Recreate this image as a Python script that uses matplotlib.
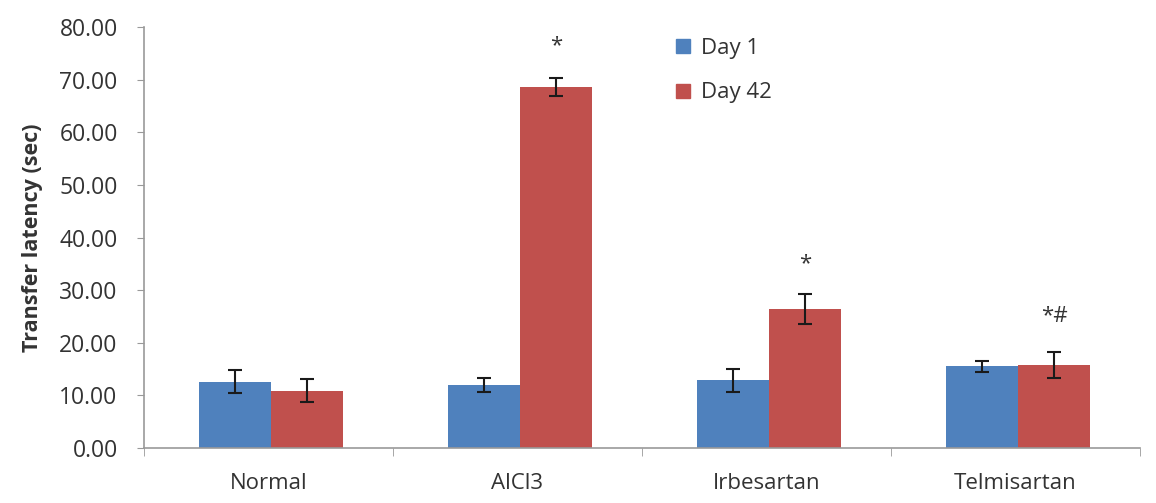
import numpy as np
import matplotlib.pyplot as plt
from matplotlib.lines import Line2D

# data
groups = ['Normal', 'AlCl3', 'Irbesartan', 'Telmisartan']
day1 = [12.6, 12.0, 12.9, 15.5]
day1_err = [2.2, 1.3, 2.2, 1.1]
day42 = [10.9, 68.6, 26.4, 15.8]
day42_err = [2.2, 1.7, 2.8, 2.4]
marks = ['', '*', '*', '*#']
mark_y = [None, 76.5, 35.0, 25.0]

blue = '#4F81BD'
red = '#C0504D'

plt.rcParams['font.family'] = ['Open Sans', 'DejaVu Sans']

fig = plt.figure(figsize=(11.56, 5.03), dpi=100)
ax = fig.add_axes([0.1246, 0.1093, 0.8614, 0.8370])

x = np.arange(len(groups))
w = 0.29
ax.bar(x - w/2 + 0.01, day1, w, color=blue, label='Day 1')
ax.bar(x + w/2 + 0.01, day42, w, color=red, label='Day 42')
ax.errorbar(x - w/2 + 0.01, day1, yerr=day1_err, fmt='none', ecolor='#1a1a1a',
            elinewidth=1.5, capsize=5, capthick=1.5)
ax.errorbar(x + w/2 + 0.01, day42, yerr=day42_err, fmt='none', ecolor='#1a1a1a',
            elinewidth=1.5, capsize=5, capthick=1.5)

for i in range(len(groups)):
    if marks[i]:
        ax.text(x[i] + w/2 + 0.01, mark_y[i], marks[i], ha='center', va='center',
                fontsize=16, color='#333333')

ax.set_xlim(-0.5, len(groups) - 0.5)
ax.set_ylim(0, 80)
ax.set_yticks(np.arange(0, 81, 10))
ax.set_yticklabels([f'{v:.2f}' for v in np.arange(0, 81, 10)], fontsize=16.5, color='#333333')
ax.set_xticks(x)
ax.set_xticklabels(groups, fontsize=16, color='#333333')
ax.tick_params(axis='x', length=0, pad=18)
ax.tick_params(axis='y', length=5, color='#999999', pad=14)
# minor ticks between groups on x axis
ax.set_xticks(np.arange(-0.5, len(groups), 1.0), minor=True)
ax.tick_params(axis='x', which='minor', length=6, color='#999999')

for s in ['top', 'right']:
    ax.spines[s].set_visible(False)
for s in ['left', 'bottom']:
    ax.spines[s].set_color('#999999')
    ax.spines[s].set_linewidth(1.2)

ax.set_ylabel('Transfer latency (sec)', fontsize=15.5, fontweight='bold', color='#333333', labelpad=12)

handles = [Line2D([], [], marker='s', linestyle='none', color=blue, markersize=10),
           Line2D([], [], marker='s', linestyle='none', color=red, markersize=10)]
fig.legend(handles, ['Day 1', 'Day 42'], loc='upper left',
           bbox_to_anchor=(652 / 1156, 1 - 18 / 503), frameon=False,
           fontsize=16, handletextpad=0.3, labelspacing=1.05, handlelength=1.0,
           labelcolor='#333333')

fig.savefig('out.png', dpi=100)
